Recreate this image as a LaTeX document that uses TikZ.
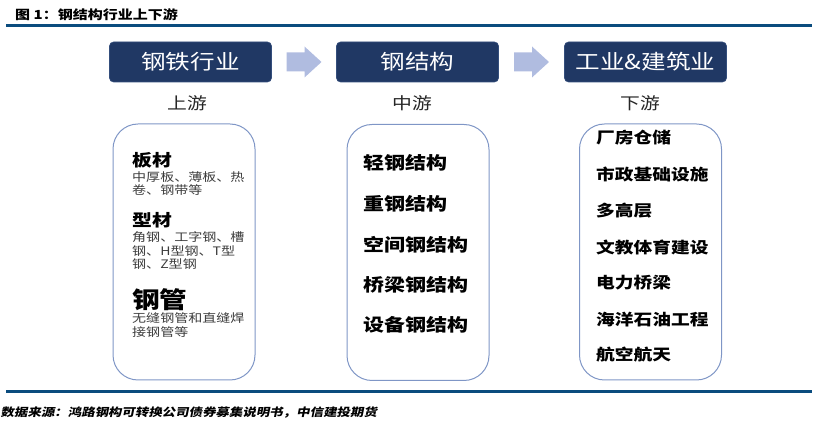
\documentclass[tikz,border=0pt]{standalone}
\usepackage{fontspec}
\setmainfont{Noto Sans CJK SC}[FakeStretch=1.2]
\newfontfamily\srcfont{Noto Sans CJK SC}[FakeStretch=1.2,FakeSlant=0.2]
\usetikzlibrary{calc}
\definecolor{navy}{RGB}{32,56,100}
\definecolor{navyedge}{RGB}{52,78,124}
\definecolor{rulec}{RGB}{10,76,126}
\definecolor{arrowc}{RGB}{176,188,224}
\definecolor{boxedge}{RGB}{127,150,198}
\definecolor{subgrey}{RGB}{60,60,60}
\tikzset{
  topbox/.style={fill=navy,draw=navyedge,line width=0.6pt,rounded corners=4pt,
    minimum width=162pt,minimum height=40pt,inner sep=0pt,text=white,
    font=\fontsize{20.5}{24}\selectfont},
  listbox/.style={draw=boxedge,line width=1pt,rounded corners=25pt,
    minimum width=142pt,minimum height=256pt,inner sep=0pt},
  stage/.style={inner sep=0pt,text=black!85,font=\fontsize{16.5}{20}\selectfont},
  txt/.style={inner sep=0pt,anchor=west},
  head/.style={txt,font=\fontsize{16.5}{20}\selectfont\bfseries},
  bighead/.style={txt,font=\fontsize{23}{26}\selectfont\bfseries},
  sub/.style={txt,text=subgrey,font=\fontsize{11.7}{14}\selectfont},
  item/.style={txt,font=\fontsize{17.5}{20}\selectfont\bfseries},
  ritem/.style={txt,font=\fontsize{15.6}{19}\selectfont\bfseries},
  rulel/.style={draw=rulec,line width=3pt},
  flow/.style={fill=arrowc}
}
\begin{document}
\begin{tikzpicture}[x=1pt,y=-1pt]
\useasboundingbox (0,0) rectangle (820,427);
% title
\node[txt,font=\fontsize{12.5}{15}\selectfont\bfseries] (title) at (15,15) {图 1：钢结构行业上下游};
\coordinate (r1a) at (6,26); \coordinate (r1b) at (812,26);
\draw[rulel] (r1a) -- (r1b);
% top boxes
\node[topbox] (t1) at (190.5,62) {钢铁行业};
\node[topbox] (t2) at (417.5,62) {钢结构};
\node[topbox] (t3) at (645.5,62) {工业\&建筑业};
% arrows
\coordinate (a1) at ($(t1.east)!0.5!(t2.west)$);
\coordinate (a2) at ($(t2.east)!0.5!(t3.west)$);
\foreach \a in {a1,a2}{
  \fill[flow,shift={(\a)}] (-17.5,-9.5) -- (0.5,-9.5) -- (0.5,-15.5) -- (17.5,0)
    -- (0.5,15.5) -- (0.5,9.5) -- (-17.5,9.5) -- cycle;
}
% stage labels
\node[stage] (s1) at (187,103) {上游};
\node[stage] (s2) at (412,103) {中游};
\node[stage] (s3) at (640,103) {下游};
% list boxes
\node[listbox] (bL) at (184,252) {};
\node[listbox] (bM) at (418,252.5) {};
\node[listbox] (bR) at (650.5,252) {};
% left box text
\node[head] (l1) at (132,160) {板材};
\node[sub] (l1a) at (132,177) {中厚板、薄板、热};
\node[sub] (l1b) at (132,190) {卷、钢带等};
\node[head] (l2) at (132,220) {型材};
\node[sub] (l2a) at (132,237) {角钢、工字钢、槽};
\node[sub] (l2b) at (132,251) {钢、H型钢、T型};
\node[sub] (l2c) at (132,264) {钢、Z型钢};
\node[bighead] (l3) at (132,300) {钢管};
\node[sub] (l3a) at (132,318) {无缝钢管和直缝焊};
\node[sub] (l3b) at (132,332) {接钢管等};
% middle box text
\node[item] (m1) at (363,163) {轻钢结构};
\node[item] (m2) at (363,203.5) {重钢结构};
\node[item] (m3) at (363,244.5) {空间钢结构};
\node[item] (m4) at (363,285) {桥梁钢结构};
\node[item] (m5) at (363,325) {设备钢结构};
% right box text
\node[ritem] (r1) at (596,138) {厂房仓储};
\node[ritem] (r2) at (596,174.5) {市政基础设施};
\node[ritem] (r3) at (596,210.5) {多高层};
\node[ritem] (r4) at (596,247) {文教体育建设};
\node[ritem] (r5) at (596,283) {电力桥梁};
\node[ritem] (r6) at (596,319.5) {海洋石油工程};
\node[ritem] (r7) at (596,355) {航空航天};
% bottom rule and source
\coordinate (r2a) at (6,392); \coordinate (r2b) at (812,392);
\draw[rulel] (r2a) -- (r2b);
\node[txt,font=\srcfont\fontsize{11.2}{13}\selectfont\bfseries] (src) at (0.5,413) {数据来源：鸿路钢构可转换公司债券募集说明书，中信建投期货};
\end{tikzpicture}
\end{document}
